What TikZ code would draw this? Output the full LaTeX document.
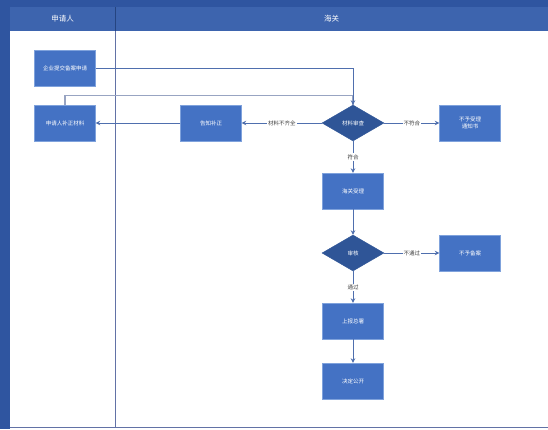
\documentclass[tikz,border=0pt]{standalone}
\usepackage{fontspec}
\setmainfont{Noto Sans CJK SC}
\usetikzlibrary{arrows.meta,shapes.geometric,positioning}
\definecolor{lanedark}{HTML}{2F55A0}
\definecolor{headblue}{HTML}{3D64AE}
\definecolor{boxblue}{HTML}{4472C4}
\definecolor{boxedge}{HTML}{7FA2DC}
\definecolor{diablue}{HTML}{2F5597}
\definecolor{flowline}{HTML}{4F6FAE}
\definecolor{backline}{HTML}{98A4C2}
\definecolor{laneline}{HTML}{6272A6}
\tikzset{
    proc/.style =   {rectangle,
                    fill=boxblue,
                    draw=boxedge,
                    text=white,
                    font=\fontsize{5.5}{7}\selectfont,
                    minimum width=61pt,
                    minimum height=36pt,
                    inner sep=1pt,
                    align=center},
    check/.style =  {diamond,
                    fill=diablue,
                    draw=diablue,
                    text=white,
                    font=\fontsize{5.5}{7}\selectfont,
                    minimum width=62pt,
                    minimum height=36pt,
                    inner sep=0pt},
    cond/.style =   {fill=white,
                    text=black!75,
                    font=\fontsize{5.5}{7}\selectfont,
                    inner sep=1pt},
    lanehead/.style = {text=white,
                    font=\fontsize{7.5}{9}\selectfont},
    -,
    flow/.style =   {color=flowline,
                    line width=0.8pt,
                    -{Stealth[length=4.5pt,width=4.5pt]}},
    back/.style =   {draw=backline,
                    line width=1.2pt},
    x=1pt, y=1pt}

\begin{document}
\begin{tikzpicture}
    \useasboundingbox (0,0) rectangle (548,-429);
    % lanes
    \fill[white] (0,0) rectangle (548,-429);
    \fill[lanedark] (0,0) rectangle (548,-7);
    \fill[lanedark] (0,0) rectangle (10,-429);
    \fill[headblue] (10,-7) rectangle (548,-31);
    \draw[lanedark!80!black, line width=0.6pt] (115.5,-7) -- (115.5,-31);
    \draw[laneline, line width=1.8pt] (115.5,-31) -- (115.5,-427);
    \draw[laneline, line width=1.2pt] (10,-427.5) -- (548,-427.5);
    \node[lanehead] (appl) at (62.5,-19) {申请人};
    \node[lanehead] (cust) at (331.5,-19) {海关};

    % steps
    \node[proc]  (apply)   at (65,-68)                          {企业提交备案申请};
    \node[proc]  (supply)  [below of=apply, node distance=55pt]    {申请人补正材料};
    \node[proc]  (notice)  [right of=supply, node distance=146pt]  {告知补正};
    \node[check] (review)  [right of=notice, node distance=142pt]  {材料审查};
    \node[proc]  (reject)  [right of=review, node distance=117pt]  {不予受理\\通知书};
    \node[proc]  (accept)  [below of=review, node distance=68pt]   {海关受理};
    \node[check] (audit)   [below of=accept, node distance=62pt]   {审核};
    \node[proc]  (refuse)  [right of=audit, node distance=117pt]   {不予备案};
    \node[proc]  (report)  [below of=audit, node distance=68pt]    {上报总署};
    \node[proc]  (publish) [below of=report, node distance=60pt]   {决定公开};

    \draw[back] (supply.north) -- ++(0,9) -| (review.north);
    \draw[flow] (apply.east) -| (review.north);
    \path[flow] (review.west) edge node[cond] {材料不齐全} (notice.east)
                (notice.west) edge (supply.east)
                (review.east) edge node[cond] {不符合} (reject.west)
                (review.south) edge node[cond] {符合} (accept.north)
                (accept) edge (audit)
                (audit.east) edge node[cond] {不通过} (refuse.west)
                (audit.south) edge node[cond] {通过} (report.north)
                (report) edge (publish);
\end{tikzpicture}
\end{document}
